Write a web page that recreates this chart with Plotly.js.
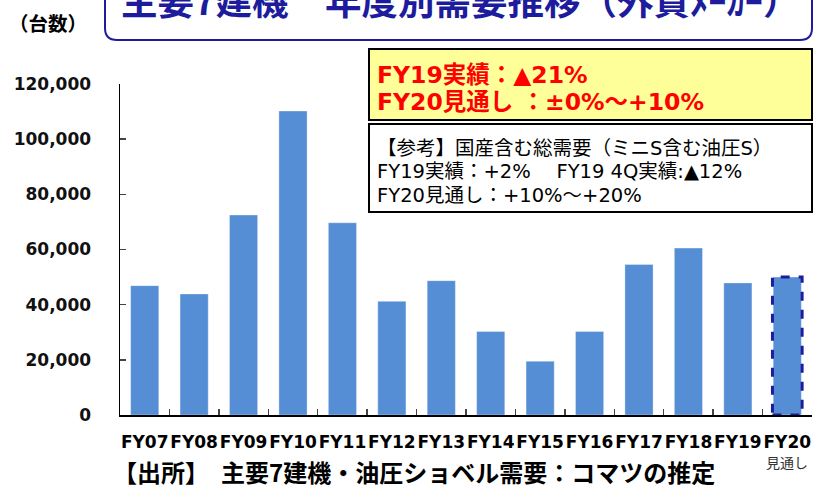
<!DOCTYPE html>
<html>
<head>
<meta charset="utf-8">
<script src="https://cdn.plot.ly/plotly-3.0.1.min.js"></script>
<style>html,body{margin:0;padding:0;background:#fff;}#chart{width:813px;height:485px;}</style>
</head>
<body>
<div id="chart"></div>
<script>
// ---- data ----
const categories = ["FY07","FY08","FY09","FY10","FY11","FY12","FY13","FY14","FY15","FY16","FY17","FY18","FY19","FY20"];
const demand = [46900, 43900, 72500, 110200, 69700, 41200, 48700, 30300, 19500, 30300, 54600, 60500, 47900, 50000];
const yTicks = [0, 20000, 40000, 60000, 80000, 100000, 120000];
const forecastNote = "見通し";
const chartTitle = "主要7建機　年度別需要推移（外資ﾒｰｶｰ）";
const unitLabel = "（台数）";
const redLines = ["FY19実績：▲21%", "FY20見通し ：±0%～+10%"];
const refLines = ["【参考】国産含む総需要（ミニS含む油圧S）", "FY19実績：+2%　 FY19 4Q実績:▲12%", "FY20見通し：+10%～+20%"];
const sourceText = "【出所】　主要7建機・油圧ショベル需要：コマツの推定";

// ---- layout helpers (pixel -> paper) ----
const W = 813, H = 485, ML = 120, MR = 1, MT = 84, MB = 70;
const PW = W - ML - MR, PH = H - MT - MB;
const X = px => (px - ML) / PW;
const Y = py => (H - MB - py) / PH;

const blue = "#558ED5";
const navy = "#1c1c9c";
const last = categories.length - 1;

const trace = {
  type: "bar",
  x: categories,
  y: demand,
  marker: {color: blue, line: {color: "rgba(255,255,255,0.35)", width: 1}},
  hoverinfo: "skip"
};

const titlePath = "M " + X(105) + "," + Y(-10) +
  " L " + X(105) + "," + Y(28) +
  " Q " + X(105) + "," + Y(40) + " " + X(117) + "," + Y(40) +
  " L " + X(800) + "," + Y(40) +
  " Q " + X(812) + "," + Y(40) + " " + X(812) + "," + Y(28) +
  " L " + X(812) + "," + Y(-10);

const cjk = "DejaVu Sans, Noto Sans CJK JP";

const annotations = [];
annotations.push({xref:"paper", yref:"paper", x:X(7), y:Y(22), xanchor:"left", yanchor:"middle", showarrow:false,
  text: unitLabel, font:{family:"Noto Sans CJK JP", size:19.5, color:"#000", weight:"bold"}});
redLines.forEach((t, i) => annotations.push({xref:"paper", yref:"paper", x:X(375), y:Y(75 + i*27), xanchor:"left", yanchor:"middle", showarrow:false,
  text: t, font:{family:cjk, size:23.5, color:"#ff0000", weight:"bold"}}));
refLines.forEach((t, i) => annotations.push({xref:"paper", yref:"paper", x:X(375), y:Y(148 + i*23.5), xanchor:"left", yanchor:"middle", showarrow:false,
  text: t, font:{family:cjk, size:19.5, color:"#000"}}));
annotations.push({xref:"x", yref:"paper", x:categories[last], y:Y(462), xanchor:"center", yanchor:"middle", showarrow:false,
  text: forecastNote, font:{family:"Noto Sans CJK JP", size:14, color:"#333"}});
annotations.push({xref:"paper", yref:"paper", x:X(111), y:Y(471), xanchor:"left", yanchor:"middle", showarrow:false,
  text: sourceText, font:{family:"Noto Sans CJK JP", size:24, color:"#000", weight:"bold"}});

const layout = {
  width: W, height: H,
  margin: {l: ML, r: MR, t: MT, b: MB, pad: 0},
  paper_bgcolor: "#fff", plot_bgcolor: "#fff",
  showlegend: false,
  bargap: 0.43,
  hovermode: false,
  title: {
    text: chartTitle,
    font: {family: "Noto Sans CJK JP", size: 36.5, color: navy, weight: "bold"},
    xref: "container", yref: "container",
    x: 121 / W, xanchor: "left",
    y: 1 - 2 / H, yanchor: "middle"
  },
  xaxis: {
    type: "category",
    range: [-0.5, last + 0.5],
    showline: true, linecolor: "#000", linewidth: 2,
    ticks: "inside", tickson: "boundaries", ticklen: 6, tickwidth: 1.5, tickcolor: "#444",
    showgrid: false, zeroline: false,
    tickangle: 0,
    tickfont: {family: "DejaVu Sans", size: 17, color: "#000", weight: "bold"},
    ticklabelstandoff: 11
  },
  yaxis: {
    range: [0, 120000],
    tickvals: yTicks,
    tickformat: ",d",
    showline: true, linecolor: "#000", linewidth: 1.5,
    ticks: "inside", ticklen: 6, tickwidth: 1.5, tickcolor: "#444",
    showgrid: false, zeroline: false,
    tickfont: {family: "DejaVu Sans", size: 17, color: "#111", weight: "bold"},
    ticklabelstandoff: 24
  },
  shapes: [
    {type: "path", xref: "paper", yref: "paper", path: titlePath, line: {color: navy, width: 2}},
    {type: "rect", xref: "paper", yref: "paper", x0: X(369), x1: X(812), y0: Y(120), y1: Y(49),
      fillcolor: "#FFFF99", line: {color: "#000", width: 2}},
    {type: "rect", xref: "paper", yref: "paper", x0: X(369), x1: X(812), y0: Y(212), y1: Y(124),
      fillcolor: "#fff", line: {color: "#000", width: 2}},
    {type: "rect", xref: "x", yref: "y", x0: last - 0.3, x1: last + 0.3, y0: 0, y1: demand[last],
      fillcolor: "rgba(0,0,0,0)", line: {color: navy, width: 3, dash: "dash"}}
  ],
  annotations: annotations
};

Plotly.newPlot("chart", [trace], layout, {displayModeBar: false, staticPlot: true});
</script>
</body>
</html>
